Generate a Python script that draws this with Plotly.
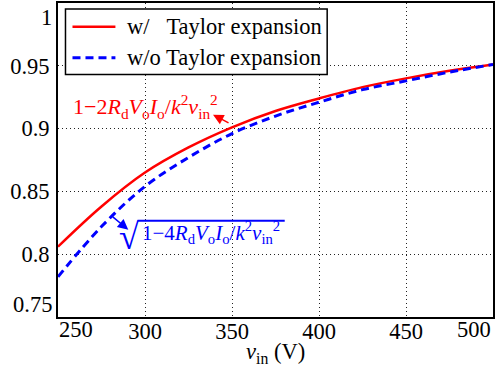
import plotly.graph_objects as go

# Data
vin = [250, 275, 300, 325, 350, 375, 400, 425, 450, 475, 500]
eff_taylor = [0.806, 0.838, 0.865, 0.885, 0.901, 0.914, 0.924, 0.933, 0.940, 0.946, 0.951]
eff_exact = [0.782, 0.822, 0.854, 0.877, 0.896, 0.910, 0.921, 0.931, 0.938, 0.945, 0.951]
series_names = ["w/\u00a0\u00a0\u00a0Taylor expansion", "w/o Taylor expansion"]
x_ticks = [300, 350, 400, 450]
y_ticks = [0.8, 0.85, 0.9, 0.95]
x_range = [250, 500]
y_range = [0.75, 1.0]

FONT = "Times New Roman, Liberation Serif, Times, serif"
FS = 22.5
RED = "#ff0000"
BLUE = "#0000ff"
BLUE_DASH = "8px,5px"

fig = go.Figure()
fig.add_trace(go.Scatter(x=vin, y=eff_taylor, mode="lines", name=series_names[0],
                         line=dict(color=RED, width=2.5, shape="spline")))
fig.add_trace(go.Scatter(x=vin, y=eff_exact, mode="lines", name=series_names[1],
                         line=dict(color=BLUE, width=3, dash=BLUE_DASH, shape="spline")))

grid = dict(showgrid=True, gridcolor="#222", gridwidth=1, griddash="1px,3px",
            showline=True, linecolor="black", linewidth=2, mirror=True,
            zeroline=False, ticks="", tickfont=dict(family=FONT, size=FS, color="black"))

fig.update_xaxes(range=x_range, tickvals=x_ticks, ticklabelstandoff=-7, **grid)
fig.update_yaxes(range=y_range, tickvals=y_ticks, ticklabelstandoff=2, **grid)

tf = dict(family=FONT, size=FS, color="black")
ann = []
# end tick labels (shifted inward as in the reference)
ann.append(dict(x=x_range[0], y=0, xref="x", yref="paper", text=str(x_range[0]), showarrow=False,
                xanchor="left", yanchor="top", yshift=2, xshift=-1, font=tf))
ann.append(dict(x=x_range[1], y=0, xref="x", yref="paper", text=str(x_range[1]), showarrow=False,
                xanchor="right", yanchor="top", yshift=2, xshift=0, font=tf))
ann.append(dict(x=0, y=y_range[1], xref="paper", yref="y", text="1", showarrow=False,
                xanchor="right", yanchor="top", xshift=-4, yshift=0, font=tf))
ann.append(dict(x=0, y=y_range[0], xref="paper", yref="y", text="0.75", showarrow=False,
                xanchor="right", yanchor="bottom", xshift=-4, yshift=-2, font=tf))
# axis title
ann.append(dict(x=0.5, y=0, xref="paper", yref="paper", yanchor="top", yshift=-20,
                text="<i>v</i><sub>in</sub> (V)", showarrow=False, font=tf))

# custom legend (box, line samples, labels)
lg_x0, lg_x1, lg_y0, lg_y1 = 0.0172, 0.6188, 0.7722, 0.981
row_y = [0.9241, 0.826]
fig.add_shape(type="rect", xref="paper", yref="paper", x0=lg_x0, x1=lg_x1, y0=lg_y0, y1=lg_y1,
              line=dict(color="black", width=1.5), fillcolor="white", layer="above")
fig.add_shape(type="line", xref="paper", yref="paper", x0=0.0333, x1=0.132, y0=row_y[0], y1=row_y[0],
              line=dict(color=RED, width=2.5))
fig.add_shape(type="line", xref="paper", yref="paper", x0=0.0333, x1=0.132, y0=row_y[1], y1=row_y[1],
              line=dict(color=BLUE, width=3, dash=BLUE_DASH))
for name, yy in zip(series_names, row_y):
    ann.append(dict(x=0.155, y=yy, xref="paper", yref="paper", xanchor="left", yanchor="middle",
                    text=name, showarrow=False, font=tf))

# red formula + arrow (arrow points at the text)
ann.append(dict(x=300.1, y=0.9175, xref="x", yref="y", showarrow=False,
                text="1\u22122<i>R</i><sub>d</sub><i>V</i><sub>o</sub><i>I</i><sub>o</sub>/<i>k</i><sup>2</sup><i>v</i><sub>in</sub><sup>2</sup>",
                font=dict(family=FONT, size=22, color=RED)))
ann.append(dict(x=339.1, y=0.9111, xref="x", yref="y", text="", showarrow=True,
                ax=17, ay=9, arrowhead=2, arrowsize=1.4, arrowwidth=1.5, arrowcolor=RED))
# blue formula + arrow
ann.append(dict(x=297.3, y=0.8175, xref="x", yref="y", showarrow=False, xanchor="left",
                text="1\u22124<i>R</i><sub>d</sub><i>V</i><sub>o</sub><i>I</i><sub>o</sub>/<i>k</i><sup>2</sup><i>v</i><sub>in</sub><sup>2</sup>",
                font=dict(family=FONT, size=21, color=BLUE)))
ann.append(dict(x=297.8, y=0.814, xref="x", yref="y", showarrow=False, xanchor="right",
                text="\u221a", font=dict(family=FONT, size=36, color=BLUE)))
ann.append(dict(x=290.4, y=0.8195, xref="x", yref="y", text="", showarrow=True,
                ax=-17, ay=-14, arrowhead=2, arrowsize=1.4, arrowwidth=1.5, arrowcolor=BLUE))

fig.add_shape(type="line", xref="x", yref="y", x0=295.7, x1=380.3, y0=0.8266, y1=0.8266,
              line=dict(color=BLUE, width=2))

fig.update_layout(
    width=503, height=373,
    margin=dict(l=58, r=10, t=1, b=56),
    paper_bgcolor="white", plot_bgcolor="white",
    font=dict(family=FONT),
    annotations=ann,
    showlegend=False,
)

fig.write_html("out.html", config={"displayModeBar": False},
               post_script="document.body.style.margin='0';document.body.style.padding='0';")
